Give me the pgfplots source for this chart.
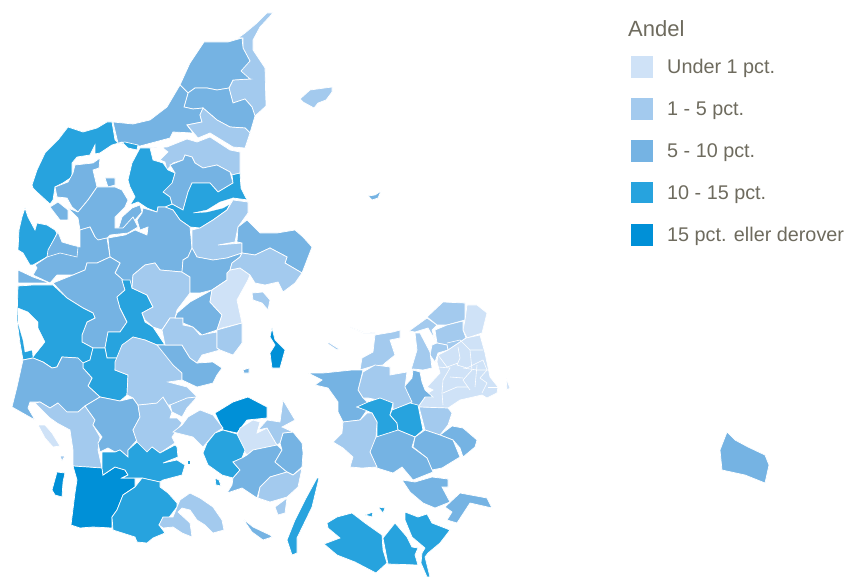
\documentclass[border=0pt]{standalone}
\usepackage{pgfplots}
\pgfplotsset{compat=1.18}
\usepackage{fontspec}
\setmainfont{Liberation Sans}
\definecolor{ca}{HTML}{CFE2F7}
\definecolor{cb}{HTML}{A3CAEE}
\definecolor{cc}{HTML}{75B3E3}
\definecolor{cd}{HTML}{27A3DE}
\definecolor{ce}{HTML}{0090D7}
\definecolor{txt}{HTML}{6E6B5E}
\newcommand{\reg}[2]{\addplot[fill=#1,draw=white,line width=0.7pt] coordinates {#2} --cycle;}
\newcommand{\wat}[1]{\addplot[fill=white,draw=white,line width=0.3pt] coordinates {#1} --cycle;}
\newcommand{\bnd}[1]{\addplot[draw=white,line width=0.6pt] coordinates {#1};}
\begin{document}
\begin{tikzpicture}
\path[use as bounding box] (0,0) rectangle (846pt,577pt);
\begin{axis}[at={(0,0)},anchor=south west,hide axis,scale only axis,width=846pt,height=577pt,xmin=0,xmax=846,ymin=0,ymax=577,y dir=reverse,clip=false]
% North Jutland
\reg{cb}{(273,13)(267,13)(257,23)(245,33)(238,38)(243,38)(243,48)(250,61)(245,65)(241,71)(243,78)(250,79)(233,80)(229,88)(233,103)(245,99)(252,107)(255,116)(266,106)(265,68)(253,50)(253,40)(260,27)}
\reg{cc}{(204,42)(228,42)(242,38)(243,48)(250,61)(241,71)(250,79)(233,80)(229,88)(217,90)(207,88)(195,88)(188,93)(180,85)(190,63)}
\reg{cc}{(188,93)(195,88)(207,88)(217,90)(229,88)(233,103)(245,99)(252,107)(255,116)(250,133)(245,128)(230,127)(217,120)(203,108)(193,109)(184,107)}
\reg{cc}{(113,122)(133,124)(150,120)(167,107)(180,85)(188,93)(184,107)(193,109)(203,108)(200,115)(202,122)(187,125)(193,133)(173,132)(170,138)(140,146)(130,145)(118,143)}
\reg{cb}{(203,108)(217,120)(230,127)(245,128)(250,133)(245,148)(233,147)(210,133)(198,138)(187,125)(202,122)(200,115)}
\reg{cb}{(150,148)(163,148)(168,152)(160,160)(165,162)(167,170)(173,163)(183,160)(185,155)(192,157)(195,163)(203,168)(217,165)(230,172)(232,175)(240,173)(240,152)(230,150)(210,137)(197,142)(187,139)(167,147)}
\reg{cc}{(170,165)(183,160)(185,155)(192,157)(195,163)(203,168)(217,165)(230,172)(233,183)(218,192)(210,183)(192,183)(188,192)(183,210)(172,204)(170,197)(163,192)(172,183)(175,173)}
\reg{cd}{(192,183)(210,183)(218,192)(233,183)(232,175)(240,173)(241,188)(246,198)(248,200)(233,198)(227,210)(213,220)(200,228)(190,227)(180,220)(173,210)(165,207)(172,204)(183,210)(188,192)}
\wat{(193,213)(207,210)(220,202)(233,198)(237,200)(223,208)(207,212)}
\reg{cd}{(140,148)(150,148)(153,160)(163,163)(168,170)(175,173)(172,183)(163,192)(170,197)(172,204)(165,207)(158,207)(157,212)(147,208)(138,202)(130,205)(135,197)(130,187)(128,180)(132,163)}
\reg{cd}{(32,185)(37,170)(45,153)(58,140)(68,127)(83,132)(97,128)(107,122)(112,122)(115,140)(118,143)(125,142)(138,145)(137,150)(128,148)(122,142)(112,145)(100,153)(95,154)(95,145)(90,155)(77,157)(72,163)(72,177)(63,183)(55,187)(53,200)(50,204)(38,193)(33,188)}
\reg{cd}{(25,208)(22,217)(19,230)(18,250)(23,253)(30,265)(33,265)(47,257)(57,233)(55,230)(47,225)(37,223)(35,230)(28,217)}
\reg{cc}{(75,165)(93,163)(100,158)(99,168)(93,170)(97,187)(88,200)(78,212)(72,207)(67,198)(57,197)(55,187)(68,182)(73,173)}
\reg{cc}{(105,178)(115,178)(115,185)(108,187)}
\reg{cc}{(50,207)(58,202)(68,210)(68,220)(60,220)}
\reg{cc}{(118,230)(122,217)(132,208)(140,205)(142,212)(135,220)(138,228)(128,232)}
\reg{cc}{(143,208)(157,212)(158,207)(165,207)(173,210)(180,220)(190,227)(192,248)(188,257)(183,260)(182,272)(160,270)(155,263)(145,265)(133,275)(132,287)(123,280)(115,273)(120,263)(110,257)(108,238)(125,235)(135,230)(147,235)(148,227)(140,230)(137,220)(142,213)}
\reg{cc}{(97,187)(107,187)(115,187)(122,190)(128,200)(125,207)(115,217)(115,228)(123,228)(133,217)(138,227)(128,233)(110,235)(107,238)(98,240)(95,237)(90,227)(80,230)(78,218)(68,208)(78,212)(88,200)}
\reg{cc}{(80,230)(90,227)(95,237)(98,240)(107,238)(110,257)(97,263)(87,263)(85,270)(73,275)(57,275)(50,283)(33,275)(37,268)(35,265)(47,257)(48,250)(58,232)(62,242)(72,245)(80,247)}
\bnd{(47,257)(60,253)(77,257)(78,247)}
\reg{cc}{(18,270)(33,277)(50,283)(18,283)}
% West / middle Jutland
\reg{cc}{(53,283)(73,275)(85,270)(87,263)(97,263)(110,257)(120,263)(115,273)(123,280)(122,280)(125,290)(117,297)(120,308)(127,322)(120,332)(108,332)(105,348)(93,348)(82,342)(82,335)(87,322)(95,318)(93,313)(83,308)(75,303)(67,298)}
\reg{cd}{(18,286)(33,285)(53,285)(67,298)(75,303)(83,308)(93,313)(95,318)(87,322)(82,335)(82,342)(93,348)(90,360)(83,363)(78,358)(62,357)(57,367)(52,368)(43,362)(33,358)(23,360)(20,343)(17,320)}
\wat{(18,308)(28,312)(38,322)(38,328)(45,342)(33,357)(32,350)(25,352)(23,340)(18,323)}
\reg{cd}{(125,290)(122,280)(130,280)(132,288)(147,295)(153,307)(142,313)(145,322)(153,327)(165,345)(157,345)(145,340)(133,337)(117,358)(107,358)(105,348)(108,332)(120,332)(127,322)(120,308)(117,297)}
\reg{cd}{(93,348)(105,348)(107,358)(117,358)(115,370)(128,375)(127,395)(120,401)(100,397)(88,386)(92,378)(83,368)(83,363)(90,360)}
\reg{cc}{(12,407)(17,387)(23,360)(33,358)(43,362)(52,368)(57,367)(62,357)(78,358)(83,363)(83,368)(92,378)(88,386)(100,397)(85,406)(78,412)(67,412)(58,403)(50,408)(40,402)(30,402)(28,408)(35,420)}
\reg{cb}{(35,403)(40,402)(50,408)(58,403)(67,412)(78,412)(85,406)(95,420)(93,425)(100,437)(98,450)(102,468)(73,466)(73,450)(70,430)(57,423)(50,418)}
\reg{ca}{(38,425)(45,425)(52,433)(60,446)(53,447)(45,438)}
\reg{cc}{(85,406)(100,397)(120,401)(133,398)(138,405)(140,417)(133,430)(137,440)(128,450)(128,457)(120,450)(115,452)(108,448)(100,452)(98,443)(102,437)(93,425)(95,420)}
\reg{cb}{(138,405)(157,403)(163,397)(168,405)(172,412)(170,418)(177,418)(182,423)(172,437)(175,443)(160,453)(152,447)(147,452)(137,442)(133,430)(140,417)}
\reg{cb}{(115,362)(122,345)(133,337)(145,340)(157,345)(165,345)(173,365)(182,373)(182,380)(168,382)(187,387)(197,397)(188,398)(172,405)(168,405)(163,397)(157,403)(138,405)(133,398)(127,395)(128,375)(115,370)}
\reg{cc}{(157,345)(165,345)(182,345)(190,358)(197,363)(213,362)(222,368)(217,375)(213,383)(197,387)(182,380)(182,373)(173,365)}
\reg{cb}{(133,275)(145,265)(155,263)(160,270)(182,272)(190,277)(190,293)(177,310)(175,318)(170,318)(162,330)(153,327)(145,320)(142,313)(153,307)(147,295)(132,288)}
\reg{cb}{(162,330)(170,318)(183,318)(183,325)(193,327)(200,335)(217,332)(217,348)(220,350)(202,355)(197,363)(190,358)(182,345)(165,345)}
\reg{cc}{(177,313)(190,302)(212,290)(210,302)(222,315)(217,330)(202,335)(193,327)(183,323)(183,318)(175,318)}
\reg{cb}{(192,230)(200,228)(213,220)(227,210)(233,200)(248,202)(248,213)(238,227)(235,242)(218,245)(242,243)(242,253)(227,258)(213,260)(197,257)(192,248)}
\reg{cc}{(192,248)(197,257)(213,260)(227,258)(242,253)(240,257)(232,263)(230,270)(227,273)(227,280)(212,290)(200,293)(190,293)(190,277)(182,272)(183,260)(188,257)}
\reg{ca}{(227,273)(230,270)(240,268)(250,275)(248,280)(237,300)(242,323)(222,328)(217,330)(222,315)(210,302)(212,290)(227,280)}
\reg{cb}{(217,330)(242,323)(242,343)(233,355)(220,350)(217,348)}
\reg{cc}{(247,220)(260,233)(277,233)(295,230)(303,237)(312,247)(302,273)(285,263)(287,257)(270,248)(255,255)(242,253)(242,243)(237,242)(238,227)}
\reg{cb}{(242,253)(255,255)(270,248)(287,257)(285,263)(302,273)(295,283)(283,292)(278,282)(265,285)(255,283)(250,275)(240,268)(230,270)(232,263)(240,257)}
\reg{cb}{(252,293)(263,292)(270,300)(268,310)(262,303)(253,300)}
\reg{cc}{(243,370)(249,368)(249,373)(244,373)}
% South Jutland
\reg{ce}{(73,466)(102,468)(103,475)(115,467)(125,470)(128,475)(122,478)(135,478)(135,487)(123,495)(117,510)(112,517)(112,528)(93,527)(80,528)(71,525)(75,493)(77,480)}
\reg{ce}{(57,472)(65,473)(63,482)(62,497)(55,495)(52,490)}
\reg{cb}{(60,456)(65,456)(62,461)}
\reg{cd}{(102,452)(115,452)(120,450)(128,457)(128,450)(137,442)(147,452)(152,447)(160,453)(175,445)(177,447)(178,457)(163,463)(177,460)(185,465)(182,475)(163,480)(160,482)(142,478)(135,478)(122,478)(128,475)(125,470)(115,467)(103,475)(102,468)}
\reg{cd}{(142,478)(160,482)(160,487)(168,493)(177,503)(177,507)(167,520)(159,525)(165,533)(153,538)(147,543)(137,542)(135,537)(113,530)(112,517)(117,510)(123,495)(135,487)}
\reg{cb}{(177,507)(180,500)(190,493)(200,498)(213,507)(222,520)(224,530)(213,533)(205,525)(197,520)(190,510)(182,508)(178,512)(190,523)(192,537)(182,533)(173,527)(163,528)(159,525)(163,517)(173,517)}
% Funen
\reg{ce}{(215,413)(233,402)(248,397)(267,407)(267,418)(247,420)(237,433)(223,430)}
\reg{ca}{(235,440)(240,428)(253,420)(260,422)(257,433)(267,428)(277,445)(253,450)(247,455)}
\reg{cb}{(188,417)(200,410)(213,415)(223,428)(215,433)(203,447)(193,437)(173,432)(182,425)}
\reg{cb}{(170,405)(187,398)(197,397)(187,408)(182,417)(172,412)}
\reg{cd}{(215,433)(223,430)(237,434)(245,450)(242,458)(233,462)(240,470)(233,478)(222,475)(208,465)(203,453)(207,443)}
\reg{cc}{(247,455)(253,450)(277,445)(282,450)(275,462)(287,472)(270,477)(260,487)(257,498)(242,488)(227,493)(232,485)(233,478)(240,470)(233,462)(242,458)}
\reg{cc}{(283,433)(293,432)(302,443)(303,453)(302,467)(293,475)(287,472)(275,462)(282,450)(280,443)}
\reg{cb}{(260,487)(270,477)(287,472)(293,475)(302,468)(298,487)(287,497)(270,502)(258,498)}
\reg{cb}{(258,430)(267,420)(280,422)(283,400)(295,420)(282,427)(293,432)(283,433)(280,443)(277,445)(267,428)}
\reg{cd}{(317,478)(319,478)(312,507)(297,538)(297,553)(292,555)(287,540)(295,520)(305,500)}
\reg{cc}{(243,519)(253,527)(270,535)(272,537)(263,540)(252,532)}
\reg{cb}{(275,507)(287,498)(285,513)(278,515)}
\reg{cd}{(187,460)(190,460)(190,464)(187,464)}
\reg{cd}{(215,478)(219,480)(221,486)(216,485)}
\reg{ce}{(272,328)(275,340)(280,345)(285,350)(280,368)(272,368)(270,353)(275,345)(270,337)}
% Islands
\reg{cb}{(300,99)(310,90)(332,87)(332,92)(326,100)(318,103)(314,108)(303,102)}
\reg{cc}{(368,196)(375,195)(381,191)(378,198)(372,200)}
\reg{cc}{(727,432)(735,440)(748,447)(765,455)(769,465)(765,483)(745,475)(722,470)(720,450)}
% Zealand
\reg{cb}{(409,331)(427,318)(437,325)(432,330)(435,340)(428,328)(415,332)}
\reg{cb}{(427,317)(443,302)(465,303)(465,320)(447,325)(437,325)}
\reg{ca}{(467,305)(477,305)(487,313)(482,333)(470,337)(467,338)(463,330)(465,320)}
\reg{cb}{(435,330)(447,325)(463,321)(463,330)(466,338)(448,350)(447,345)(437,343)}
\reg{cb}{(432,345)(437,343)(447,345)(448,350)(438,353)(435,362)(430,355)}
\reg{ca}{(438,355)(448,350)(466,338)(480,335)(485,353)(490,377)(498,387)(497,393)(487,398)(482,395)(460,400)(448,408)(418,407)(428,393)(433,390)(427,387)(440,373)(437,362)}
\bnd{(438,355)(447,367)(458,363)}
\bnd{(447,343)(460,340)(470,350)(483,350)}
\bnd{(458,347)(460,358)(457,365)(467,368)(483,360)}
\bnd{(470,350)(472,370)(463,380)(470,390)}
\bnd{(438,367)(450,368)(443,380)(442,393)}
\bnd{(443,393)(457,387)(468,387)}
\bnd{(442,393)(443,405)}
\bnd{(483,360)(487,370)(480,378)(487,383)(482,393)}
\bnd{(488,387)(498,387)}
\bnd{(450,377)(463,378)}
\bnd{(477,365)(475,387)}
\bnd{(463,368)(477,370)(490,370)}
\reg{ca}{(506,378)(510,388)(507,390)}
\reg{cc}{(413,370)(420,372)(422,382)(425,390)(433,397)(425,397)(418,407)(412,405)(404,387)(412,378)}
\reg{cb}{(415,333)(420,333)(430,352)(432,368)(423,370)(413,369)(411,370)(417,350)}
\reg{cb}{(360,370)(362,358)(373,352)(375,335)(393,332)(400,330)(400,338)(390,340)(395,355)(385,363)(383,365)(373,366)}
\reg{cb}{(350,327)(363,332)(375,333)(363,333)}
\reg{cb}{(328,342)(339,349)(337,350)(328,344)}
\reg{cb}{(363,372)(375,365)(390,367)(390,375)(407,372)(405,387)(412,402)(393,410)(393,403)(368,398)(363,398)(358,390)}
\reg{cc}{(308,373)(323,373)(333,372)(352,370)(363,370)(358,390)(363,398)(368,403)(357,407)(367,410)(360,420)(343,422)(338,412)(338,402)(328,388)(315,385)(322,380)}
\reg{cd}{(368,402)(380,398)(393,403)(390,415)(397,423)(398,430)(387,435)(377,437)(377,422)(372,413)(365,410)(357,407)}
\reg{cd}{(392,410)(410,403)(418,405)(423,430)(415,437)(398,430)(397,423)(390,415)}
\reg{cb}{(419,407)(448,408)(452,413)(448,425)(440,435)(425,430)}
\reg{cc}{(452,426)(463,428)(477,440)(475,447)(463,457)(460,448)(453,440)(440,435)}
\reg{cc}{(425,430)(440,435)(453,440)(460,457)(442,468)(432,470)(427,458)(413,447)(415,437)}
\reg{cc}{(373,438)(398,430)(415,437)(412,447)(427,458)(433,472)(413,480)(402,467)(393,473)(377,468)(370,452)}
\reg{cb}{(343,422)(360,420)(367,413)(372,413)(377,422)(376,437)(370,452)(377,467)(362,468)(350,467)(353,457)(343,448)(333,442)(342,433)}
\reg{cc}{(402,480)(415,482)(432,477)(448,479)(448,487)(442,487)(450,502)(435,508)(423,503)(410,492)}
\reg{cc}{(445,507)(460,493)(487,498)(492,508)(470,503)(457,523)(447,520)(452,512)}
% Lolland Falster
\reg{cd}{(327,523)(337,517)(352,513)(365,523)(382,535)(383,550)(387,563)(376,573)(355,562)(337,555)(324,544)(340,538)(328,528)}
\reg{cd}{(395,523)(407,537)(412,547)(418,548)(415,555)(418,565)(388,564)(383,538)}
\reg{cd}{(405,512)(418,517)(427,514)(432,523)(450,530)(440,543)(428,553)(425,557)(430,577)(427,577)(421,563)(422,553)(425,548)(412,537)(405,520)}
\reg{cd}{(365,515)(373,512)(372,517)}
\reg{cd}{(378,507)(385,508)(383,513)}
% Legend swatches
\addplot[fill=ca,draw=none] coordinates {(631,56)(653,56)(653,78)(631,78)} --cycle;
\addplot[fill=cb,draw=none] coordinates {(631,98)(653,98)(653,120)(631,120)} --cycle;
\addplot[fill=cc,draw=none] coordinates {(631,140)(653,140)(653,162)(631,162)} --cycle;
\addplot[fill=cd,draw=none] coordinates {(631,182)(653,182)(653,203)(631,203)} --cycle;
\addplot[fill=ce,draw=none] coordinates {(631,224)(653,224)(653,246)(631,246)} --cycle;
\node[anchor=base west,inner sep=0pt,text=txt,font=\fontsize{22}{22}\selectfont] at (axis cs:628,37) {Andel};
\node[anchor=base west,inner sep=0pt,text=txt,font=\fontsize{19.8}{20}\selectfont] at (axis cs:667,74) {Under 1 pct.};
\node[anchor=base west,inner sep=0pt,text=txt,font=\fontsize{19.8}{20}\selectfont] at (axis cs:667,116) {1 - 5 pct.};
\node[anchor=base west,inner sep=0pt,text=txt,font=\fontsize{19.8}{20}\selectfont] at (axis cs:667,158) {5 - 10 pct.};
\node[anchor=base west,inner sep=0pt,text=txt,font=\fontsize{19.8}{20}\selectfont] at (axis cs:667,200) {10 - 15 pct.};
\node[anchor=base west,inner sep=0pt,text=txt,font=\fontsize{19.8}{20}\selectfont] at (axis cs:667,242) {15 pct. eller derover};
\end{axis}
\end{tikzpicture}
\end{document}
